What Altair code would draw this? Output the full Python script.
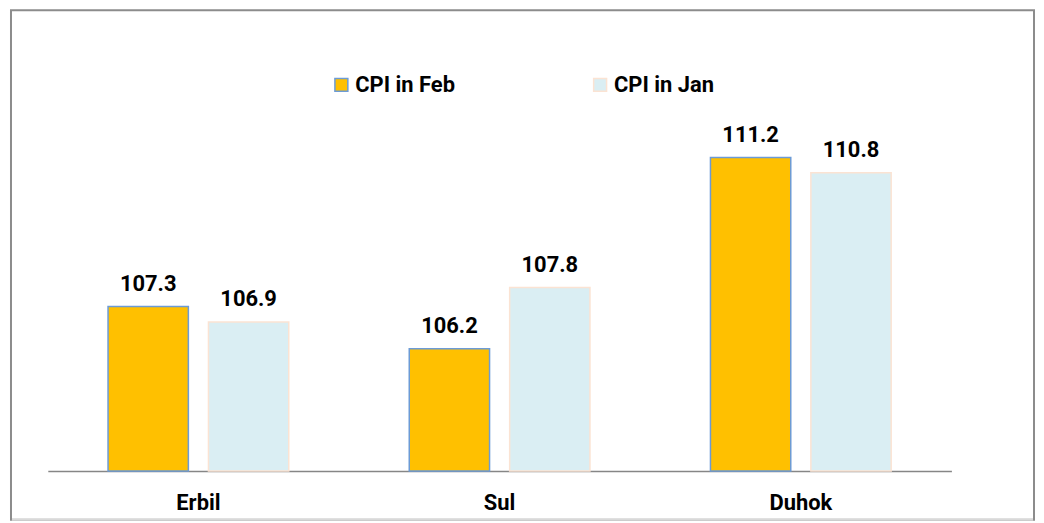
import altair as alt
import pandas as pd

cities = ["Erbil", "Sul", "Duhok"]
series = ["CPI in Feb", "CPI in Jan"]
cpi_feb = [107.3, 106.2, 111.2]
cpi_jan = [106.9, 107.8, 110.8]
axis_min = 103
axis_max = 115
fill_colors = ["#FFC000", "#DAEEF3"]
stroke_colors = ["#6C9BD6", "#FBE3D3"]

rows = []
for i, c in enumerate(cities):
    rows.append({"city": c, "series": series[0], "value": cpi_feb[i]})
    rows.append({"city": c, "series": series[1], "value": cpi_jan[i]})
df = pd.DataFrame(rows)

FONT = "Roboto"

legend = alt.Legend(
    title=None, orient="none", legendX=284, legendY=62, direction="horizontal",
    columns=2, symbolType="square", symbolSize=169, symbolStrokeWidth=1.5,
    labelFont=FONT, labelFontSize=22, labelFontWeight="bold", labelColor="black",
    labelOffset=3, columnPadding=134, padding=0,
)

x = alt.X(
    "city:N", sort=cities, title=None,
    scale=alt.Scale(paddingInner=0.4, paddingOuter=0.2),
    axis=alt.Axis(
        labelAngle=0, ticks=False, tickSize=0, labelFont=FONT, labelFontSize=22,
        labelFontWeight="bold", labelColor="black", labelPadding=39,
        labelBaseline="alphabetic", domainColor="#868686", domainWidth=1.5, grid=False,
    ),
)
xoff = alt.XOffset("series:N", sort=series, scale=alt.Scale(paddingInner=0.2, paddingOuter=0))
y = alt.Y("value:Q", scale=alt.Scale(domain=[axis_min, axis_max], zero=False, nice=False), axis=None)

base = alt.Chart(df)
bars = base.mark_bar(strokeWidth=1.5).encode(
    x=x, xOffset=xoff, y=y, y2=alt.datum(axis_min),
    fill=alt.Fill("series:N", sort=series, scale=alt.Scale(domain=series, range=fill_colors), legend=legend),
    stroke=alt.Stroke("series:N", sort=series, scale=alt.Scale(domain=series, range=stroke_colors), legend=legend),
)
labels = base.mark_text(
    font=FONT, fontSize=22, fontWeight="bold", color="black", baseline="alphabetic", dy=-16
).encode(x=x, xOffset=xoff, y=y, text=alt.Text("value:Q", format=".1f"))

one = pd.DataFrame({"k": [0]})
frame = alt.Chart(one).mark_rect(fillOpacity=0, stroke="#8c8c8c", strokeWidth=2).encode(
    x=alt.value(-37), x2=alt.value(991), y=alt.value(-2), y2=alt.value(510)
)
bottom_line = alt.Chart(one).mark_rule(stroke="#d9d9d9", strokeWidth=2.2).encode(
    x=alt.value(-36), x2=alt.value(990), y=alt.value(510)
)

chart = alt.layer(frame, bottom_line, bars, labels).properties(
    width=908, height=461,
    padding={"left": 40, "top": 3, "right": 85, "bottom": 50},
    autosize=alt.AutoSizeParams(type="none"),
).configure_view(stroke=None)

chart.save("out.html", embed_options={"renderer": "svg", "actions": False})
